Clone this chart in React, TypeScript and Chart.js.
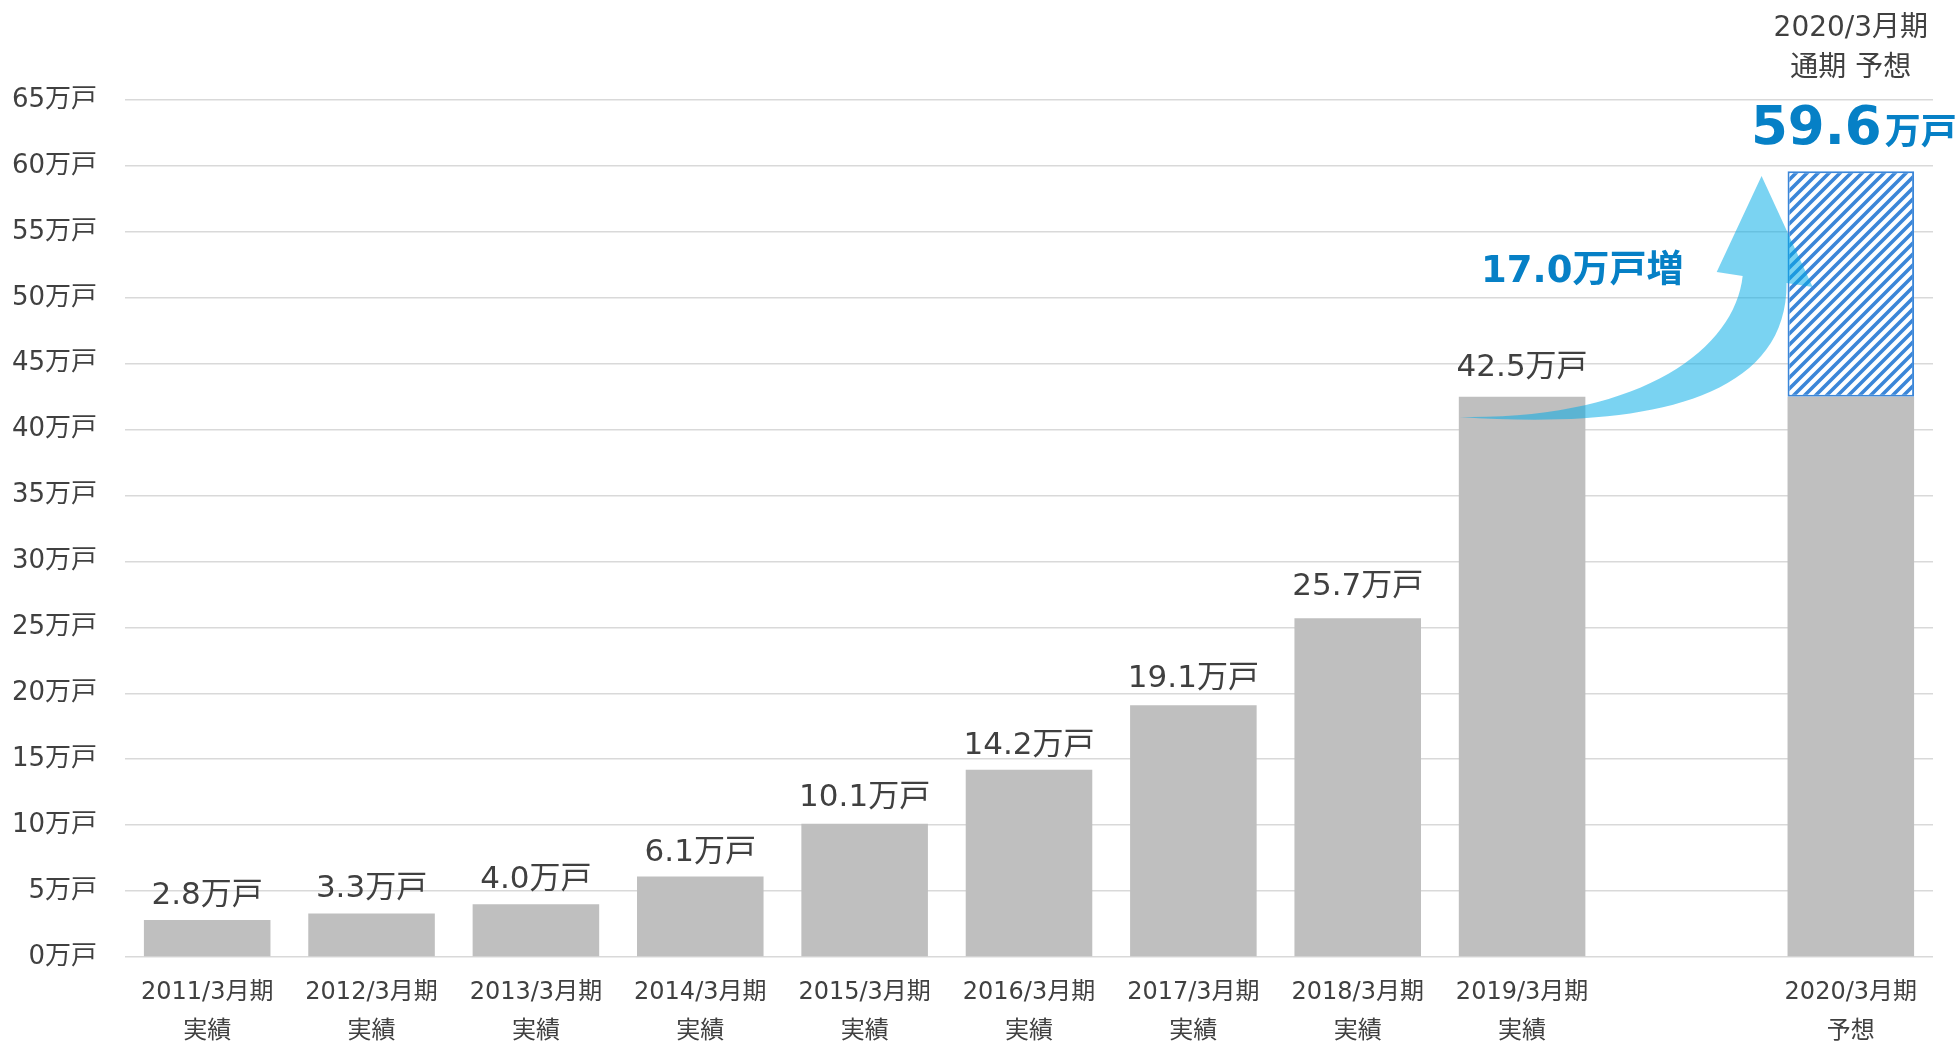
import React, { useEffect, useRef } from "react";
import { Chart, registerables } from "chart.js";

Chart.register(...registerables);

// ---- data ----
const periodLabels: string[] = [
  "2011/3月期",
  "2012/3月期",
  "2013/3月期",
  "2014/3月期",
  "2015/3月期",
  "2016/3月期",
  "2017/3月期",
  "2018/3月期",
  "2019/3月期",
  "",
  "2020/3月期",
];
const periodKinds: string[] = ["実績", "実績", "実績", "実績", "実績", "実績", "実績", "実績", "実績", "", "予想"];
const actualValues: (number | null)[] = [2.8, 3.3, 4.0, 6.1, 10.1, 14.2, 19.1, 25.7, 42.5, null, 42.5];
const forecastIncrease: (number | null)[] = [null, null, null, null, null, null, null, null, null, null, 17.1];
const showValueLabel: boolean[] = [true, true, true, true, true, true, true, true, true, false, false];
const forecastTotal = 59.6;
const forecastTotalText = "59.6";
const increaseText = "17.0万戸増";
const forecastHeader: string[] = ["2020/3月期", "通期 予想"];
const unit = "万戸";
const yMin = 0;
const yMax = 65;
const yStep = 5;

// ---- styles ----
const FONT = '"DejaVu Sans", "Noto Sans CJK JP", sans-serif';
const TEXT = "#404040";
const GRAY = "#BFBFBF";
const HATCH = "#3B86D8";
const BLUE = "#0680C6";
const GRID = "#D9D9D9";
const ARROW = "rgba(0,170,230,0.52)";
const LABEL_GAP = 16;
const labelExtraLift: number[] = [0, 0, 0, 0, 2, 0, 2, 7, 5, 0, 0];

// arrow outline in (category units, value units)
const arrowShape = {
  tail: [7.62, 40.96],
  upperC1: [8.715, 40.73],
  upperC2: [9.293, 46.04],
  upperEnd: [9.342, 51.65],
  headLeft: [9.184, 51.95],
  tip: [9.457, 59.23],
  headRight: [9.768, 50.82],
  lowerStart: [9.609, 51.12],
  lowerC1: [9.616, 41.49],
  lowerC2: [8.594, 40.12],
};
const increaseTextPos = [8.366, 51.9];

const annotationPlugin = {
  id: "annotations",
  afterDatasetsDraw(chart: any) {
    const ctx: CanvasRenderingContext2D = chart.ctx;
    const xs = chart.scales.x;
    const ys = chart.scales.y;
    const x0 = xs.getPixelForValue(0);
    const step = xs.getPixelForValue(1) - x0;
    const px = (c: number) => x0 + c * step;
    const py = (v: number) => ys.getPixelForValue(v);
    const P = (p: number[]) => [px(p[0]), py(p[1])];

    ctx.save();
    // value labels
    const meta = chart.getDatasetMeta(0);
    ctx.font = `31px ${FONT}`;
    ctx.fillStyle = TEXT;
    ctx.textAlign = "center";
    ctx.textBaseline = "alphabetic";
    actualValues.forEach((v, i) => {
      if (v == null || !showValueLabel[i]) return;
      const el = meta.data[i];
      ctx.fillText(`${v.toFixed(1)}${unit}`, el.x, el.y - LABEL_GAP - labelExtraLift[i]);
    });

    // arrow
    const a = arrowShape;
    const t = P(a.tail), u1 = P(a.upperC1), u2 = P(a.upperC2), ue = P(a.upperEnd);
    const hl = P(a.headLeft), tp = P(a.tip), hr = P(a.headRight), ls = P(a.lowerStart);
    const l1 = P(a.lowerC1), l2 = P(a.lowerC2);
    ctx.beginPath();
    ctx.moveTo(t[0], t[1]);
    ctx.bezierCurveTo(u1[0], u1[1], u2[0], u2[1], ue[0], ue[1]);
    ctx.lineTo(hl[0], hl[1]);
    ctx.lineTo(tp[0], tp[1]);
    ctx.lineTo(hr[0], hr[1]);
    ctx.lineTo(ls[0], ls[1]);
    ctx.bezierCurveTo(l1[0], l1[1], l2[0], l2[1], t[0], t[1]);
    ctx.closePath();
    ctx.fillStyle = ARROW;
    ctx.fill();

    // increase text
    ctx.font = `bold 37px ${FONT}`;
    ctx.fillStyle = BLUE;
    ctx.textAlign = "center";
    ctx.textBaseline = "middle";
    ctx.fillText(increaseText, px(increaseTextPos[0]), py(increaseTextPos[1]));

    // forecast header + total
    const lastIdx = periodLabels.length - 1;
    const cx = xs.getPixelForValue(lastIdx);
    const top = chart.chartArea.top;
    ctx.font = `28px ${FONT}`;
    ctx.fillStyle = TEXT;
    ctx.textBaseline = "middle";
    ctx.fillText(forecastHeader[0], cx, top - 71);
    ctx.fillText(forecastHeader[1], cx, top - 31);

    const bigFont = `bold 53px ${FONT}`;
    const unitFont = `bold 36px ${FONT}`;
    ctx.font = bigFont;
    const w1 = ctx.measureText(forecastTotalText).width;
    ctx.font = unitFont;
    const w2 = ctx.measureText(unit).width;
    const gap = 3;
    const startX = cx + 3 - (w1 + gap + w2) / 2;
    const baseY = py(forecastTotal) - 27;
    ctx.fillStyle = BLUE;
    ctx.textAlign = "left";
    ctx.textBaseline = "alphabetic";
    ctx.font = bigFont;
    ctx.fillText(forecastTotalText, startX, baseY);
    ctx.font = unitFont;
    ctx.fillText(unit, startX + w1 + gap, baseY);
    ctx.restore();
  },
};

export default function App() {
  const ref = useRef<HTMLCanvasElement | null>(null);

  useEffect(() => {
    const canvas = ref.current;
    if (!canvas) return;
    const ctx = canvas.getContext("2d")!;

    const T = 11;
    const tile = document.createElement("canvas");
    tile.width = T;
    tile.height = T;
    const g = tile.getContext("2d")!;
    g.fillStyle = "#ffffff";
    g.fillRect(0, 0, T, T);
    g.strokeStyle = HATCH;
    g.lineWidth = 3.6;
    g.beginPath();
    g.moveTo(0, T);
    g.lineTo(T, 0);
    g.moveTo(-T / 2, T / 2);
    g.lineTo(T / 2, -T / 2);
    g.moveTo(T / 2, T * 1.5);
    g.lineTo(T * 1.5, T / 2);
    g.stroke();
    const pattern = ctx.createPattern(tile, "repeat");

    Chart.defaults.font.family = FONT;

    const labels = periodLabels.map((p, i) => (p ? [p, periodKinds[i]] : ""));

    const chart = new Chart(canvas, {
      type: "bar",
      data: {
        labels,
        datasets: [
          {
            data: actualValues as any,
            backgroundColor: GRAY,
            borderWidth: 0,
            barPercentage: 0.77,
            categoryPercentage: 1,
          },
          {
            data: forecastIncrease as any,
            backgroundColor: pattern as any,
            borderColor: HATCH,
            borderWidth: 2,
            borderSkipped: false,
            barPercentage: 0.77,
            categoryPercentage: 1,
          },
        ],
      },
      options: {
        responsive: false,
        animation: false,
        devicePixelRatio: 1,
        layout: { padding: { top: 100, right: 23, left: 0, bottom: 0 } },
        plugins: {
          legend: { display: false },
          tooltip: { enabled: false },
        },
        scales: {
          x: {
            stacked: true,
            grid: { display: false },
            border: { display: false },
            ticks: {
              color: TEXT,
              font: { family: FONT, size: 24, lineHeight: 39 / 24 },
              padding: 8,
              maxRotation: 0,
              autoSkip: false,
            },
            afterFit: (s: any) => {
              s.height = 84;
            },
          },
          y: {
            stacked: true,
            min: yMin,
            max: yMax,
            grid: { color: GRID, lineWidth: 1.5, drawTicks: false },
            border: { display: false },
            ticks: {
              stepSize: yStep,
              padding: 28,
              color: TEXT,
              font: { family: FONT, size: 26 },
              callback: (v: any) => `${v}${unit}`,
            },
            afterFit: (s: any) => {
              s.width = 125;
            },
          },
        },
      } as any,
      plugins: [annotationPlugin],
    });

    return () => chart.destroy();
  }, []);

  return (
    <div style={{ position: "fixed", left: 0, top: 0, width: 1956, height: 1041, background: "#fff" }}>
      <canvas ref={ref} width={1956} height={1041} style={{ display: "block", width: 1956, height: 1041 }} />
    </div>
  );
}
